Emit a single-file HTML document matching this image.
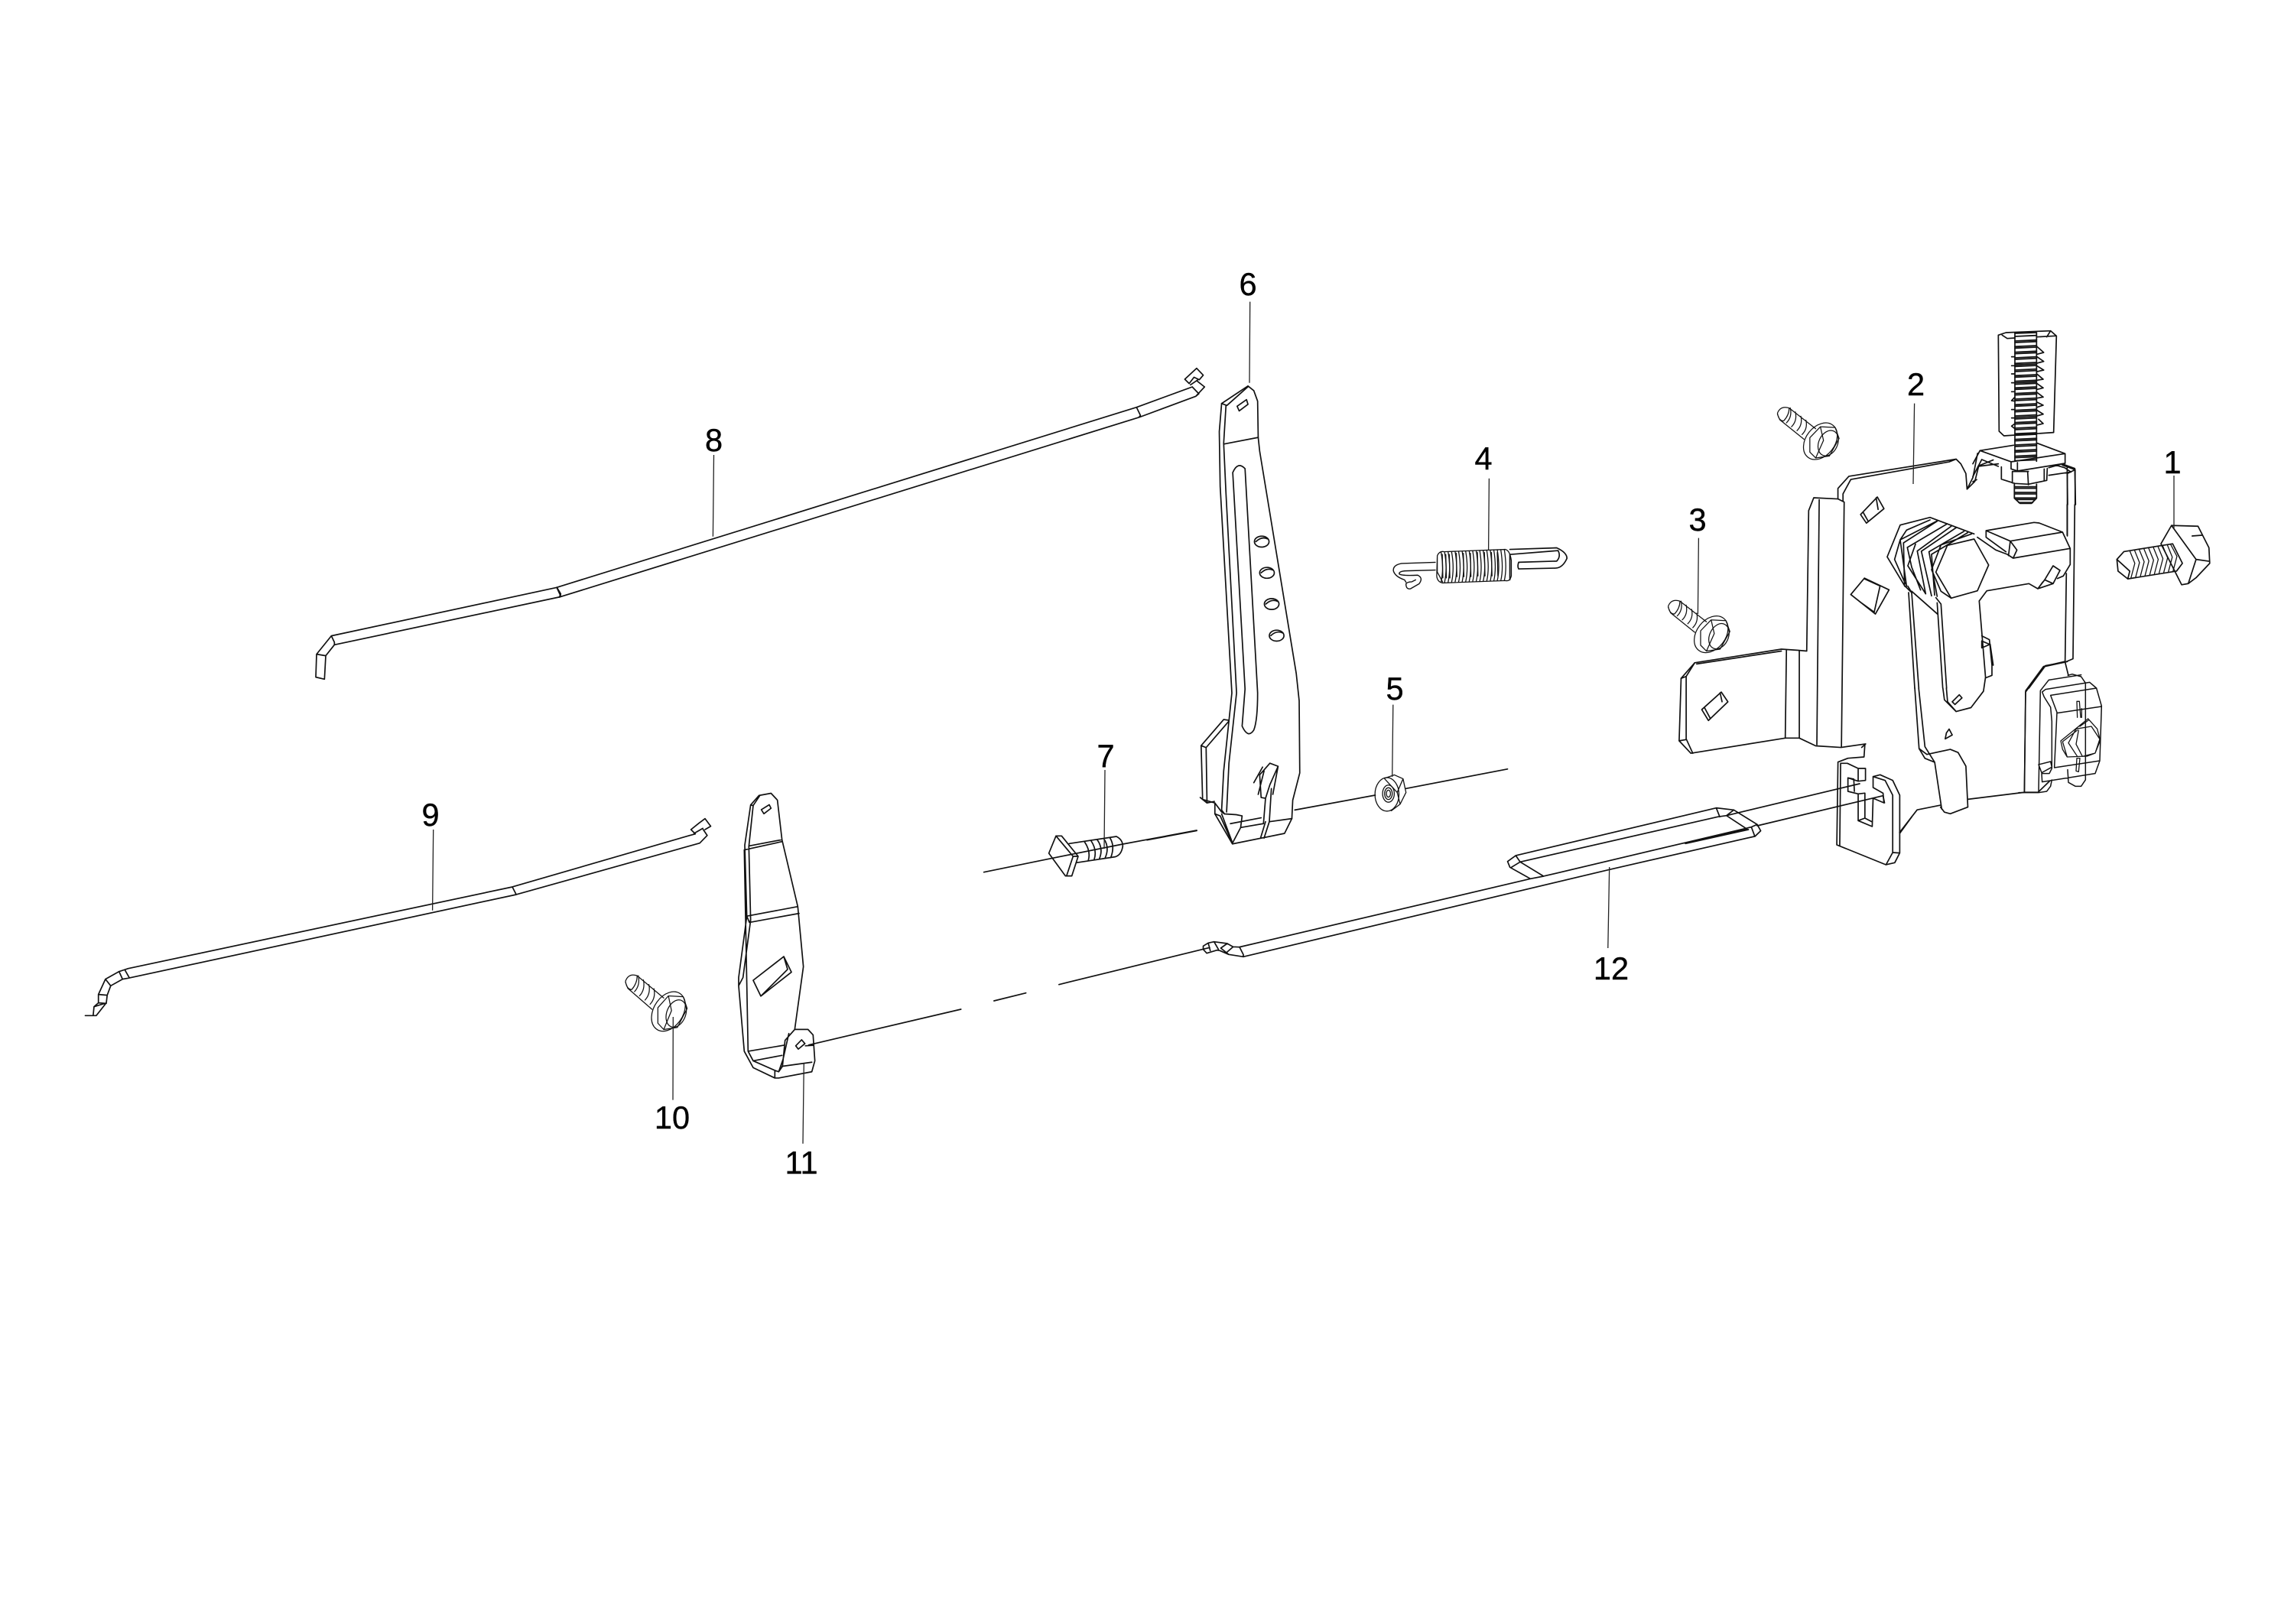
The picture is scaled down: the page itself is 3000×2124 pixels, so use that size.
<!DOCTYPE html>
<html><head><meta charset="utf-8"><style>
html,body{margin:0;padding:0;background:#fff}
svg{display:block}
svg *{vector-effect:non-scaling-stroke}
text{font-family:"Liberation Sans",sans-serif;font-size:41.5px;fill:#000;stroke:#000;stroke-width:.4;text-anchor:middle}
</style></head><body>
<svg width="3000" height="2124" viewBox="0 0 3000 2124" xmlns="http://www.w3.org/2000/svg">
<rect width="3000" height="2124" fill="#fff"/>
<g fill="none" stroke="#111" stroke-width="1.7" stroke-linejoin="round" stroke-linecap="round">

<!-- rod 8 -->
<g transform="translate(380,480) scale(.3333)">
<path d="M1045,865L160,1055L102,1127L99,1217L133,1225L138,1133L172,1090L1058,902M160,1055L172,1080V1090M1045,865L1060,890L1058,902M102,1127L138,1133"/>
</g>
<g transform="translate(720,470) scale(.574,.3333)">
<path d="M14,895L1335,188L1462,108M20,933L1340,228L1470,145L1490,108L1473,85M14,895L22,925L20,933M1335,188L1344,220L1340,228M1462,108L1477,135L1470,145M1445,78L1472,35L1487,62L1478,80L1466,70L1455,95ZM1458,100L1475,80"/>
</g>

<!-- rod 9 -->
<g transform="translate(100,1050) scale(.574,.3333)">
<path d="M1397,128L993,330L118,650L97,662L66,692L50,752V785L40,800L38,835M1428,105L1437,128L1420,158L1002,360L118,688L105,692L78,718L70,755L68,785L45,835H20M993,330L1002,360M110,655L120,685M97,662L105,692M66,692L78,718M50,752L70,755M50,785L68,787M40,800L65,787M1400,105L1418,80L1432,62L1445,92L1432,105M1400,105L1410,122L1397,128M1407,120L1427,100"/>
</g>

<!-- axis + rod 12 tip -->
<g transform="translate(1050,1200) scale(.3827,.3333)">
<path d="M20,500L540,360M653,327L762,296M875,263L1390,118M1368,112L1385,100L1405,95L1450,102L1470,115L1492,116L1505,145V154L1455,145L1425,130L1415,128L1380,140L1368,125ZM1385,100L1392,130M1405,95L1420,125M1450,102L1428,120L1455,145M1470,115L1450,135"/>
</g>

<!-- rod 12 + clip -->
<g transform="translate(1900,950) scale(.3827,.3333)">
<path d="M-729,866L265,598M-716,904L535,562L1030,432M265,598L195,553L187,530L215,507L900,320L960,328L1040,385L1052,410L1032,432M310,588L230,532L200,553M215,507L230,532L905,355L935,350L1005,403M265,598L310,588L1020,395L1040,385M900,320L912,355M960,328L935,350M1020,395L1032,432M790,458L1005,403M795,460L1010,405M935,350L1390,225M1040,390L1470,272L1475,300"/>
<path d="M1408,70L1405,120L1350,125L1316,140L1312,465L1480,543L1510,535L1527,497V270L1503,212L1460,190L1436,197V240L1470,262L1473,300L1436,282L1433,393L1385,370V265L1350,255V202L1385,215L1410,212V165H1385L1348,145L1325,145M1325,145L1322,470M1385,265L1408,262V360L1433,375M1385,165V213M1350,202L1370,207L1372,255M1385,370L1408,360M1436,197L1477,212L1503,270V495L1480,543M1503,495L1527,497M1527,420L1568,355"/>
</g>

<!-- main plate, bolts -->
<g transform="translate(2150,400) scale(.5102)">
<path d="M497,495V468L525,437L800,393L812,405L825,430L828,470L848,450L858,410L895,395M510,500V482L530,445L782,400L800,393M828,470L843,440L855,378"/>
<path d="M417,885L422,525L435,492L497,495L513,503L506,1130M449,497L443,1125M417,885L395,883L352,880L130,915L95,955L90,1115L120,1147L362,1108H398L440,1128L505,1132L568,1123L558,1132"/>
<path d="M135,918L352,885M95,955L108,950L130,915M108,950V1110L125,1147M90,1115L108,1112M365,883L362,1108M398,885V1108"/>
<path d="M148,1035L198,990L215,1015L165,1063ZM195,992L200,1015M155,1030L170,1058"/>
<path d="M555,535L598,490L615,520L570,557ZM595,492L600,522M562,530L575,553"/>
<path d="M530,740L565,698L628,728L593,790ZM565,698L605,718L590,785L555,760L530,740M605,718L565,700"/>
<path d="M655,1350L700,1292L760,1280M830,1265L975,1247H1010L1040,1218M975,1247L978,990L1025,925L1085,912M1105,510V420L1072,408M1085,590V430L1105,420"/>
<path d="M704,980L720,1130L745,1170L763,1290M694,980L705,1135L720,1160L745,1170M705,1135L725,1150L785,1137L805,1145L825,1180L830,1285L785,1302L770,1298L760,1285"/>
<path d="M766,980L770,1010L800,1040L838,1030L870,988L875,954M775,980L778,1015L800,1040M790,1015L808,997L815,1005L797,1022ZM775,1095L782,1085L790,1100L772,1110Z"/>
<!-- bolt 1 -->
<path d="M1352,563L1325,610L1378,715L1395,712L1415,650ZM1352,563L1420,565L1448,620L1450,660L1415,697L1395,712M1415,650L1450,655M1405,590L1430,588M1230,630L1355,610L1380,660L1365,680L1240,700L1215,680L1212,650ZM1212,650L1245,680L1240,700"/>
<path stroke-width="1.3" d="M1245,628L1258,660L1248,698M1257,626L1270,658L1260,696M1269,624L1282,656L1272,694M1281,622L1294,654L1284,692M1293,620L1306,652L1296,690M1305,618L1318,650L1308,688M1317,616L1330,648L1320,686M1329,614L1342,646L1332,684M1341,612L1354,644L1344,682M1350,612L1366,642L1356,680"/>
<g stroke-width="1.25">
<path d="M342,275Q350,255 372,262L440,315M342,278L348,292L410,342M342,275Q345,295 358,295Q372,280 372,262M375,262Q380,285 365,300M388,272Q393,295 378,310M402,283Q407,305 392,320M415,293Q420,315 405,330"/>
<ellipse cx="452" cy="347" rx="37" ry="52" transform="rotate(38 452 347)"/>
<path d="M425,338L452,310L490,312L500,340L475,385L440,390L425,375ZM452,310L460,345L440,390"/>
<ellipse cx="472" cy="352" rx="24" ry="34" transform="rotate(25 472 352)"/>
</g>
<g transform="translate(-280,495)" stroke-width="1.25"><path d="M342,275Q350,255 372,262L440,315M342,278L348,292L410,342M342,275Q345,295 358,295Q372,280 372,262M375,262Q380,285 365,300M388,272Q393,295 378,310M402,283Q407,305 392,320M415,293Q420,315 405,330"/>
<ellipse cx="452" cy="347" rx="37" ry="52" transform="rotate(38 452 347)"/>
<path d="M425,338L452,310L490,312L500,340L475,385L440,390L425,375ZM452,310L460,345L440,390"/>
<ellipse cx="472" cy="352" rx="24" ry="34" transform="rotate(25 472 352)"/></g>
</g>

<!-- bolt 10 -->
<g transform="translate(643.5,1132) scale(.5102,.55)" stroke-width="1.25">
<path d="M342,275Q350,255 372,262L440,315M342,278L348,292L410,342M342,275Q345,295 358,295Q372,280 372,262M375,262Q380,285 365,300M388,272Q393,295 378,310M402,283Q407,305 392,320M415,293Q420,315 405,330"/>
<ellipse cx="452" cy="347" rx="37" ry="52" transform="rotate(38 452 347)"/>
<path d="M425,338L452,310L490,312L500,340L475,385L440,390L425,375ZM452,310L460,345L440,390"/>
<ellipse cx="472" cy="352" rx="24" ry="34" transform="rotate(25 472 352)"/>
</g>

<!-- lever + layered hex -->
<g transform="translate(2450,660) scale(.3333)">
<path d="M290,160L395,135L452,237L408,338L305,367L245,265Z"/>
<path d="M54,205L105,80L222,50L395,115M54,205L122,318L150,345M83,215L105,138L130,100L222,60M83,215L125,310M105,138L248,65M118,150L250,65M118,150L122,320M105,138L130,320M133,168L290,75M133,168L150,245L185,335M165,155L135,240L205,350M172,182L305,85M172,182L205,350M188,183L325,90M188,183L228,358M218,185L355,105M218,185L250,360M228,195L370,110M228,195L240,355M265,158L385,115M265,158L228,255L265,340L305,367"/>
<path d="M135,320L150,345L178,720M138,345L162,720M150,340L252,430M245,365L265,390L287,720M250,385L272,720"/>
<path d="M408,128L480,178L525,195L548,210L772,172L742,108L650,72L630,70L442,102V128L520,185M537,143L742,108M442,102L537,143L563,178L548,210M537,143L530,200M772,172V235L745,280L722,290"/>
<path d="M415,378L445,338L610,310L645,330L665,303M645,330L705,310L732,258L705,240L672,295L705,310M645,330L672,295M415,378L440,680L465,670V630L455,530L425,515M425,535V562L458,548M425,535L455,548M458,548L470,630"/>
<path d="M760,0V120M790,0L783,605L752,618L675,632L610,720M757,270L752,618L765,670"/>
</g>

<!-- right bracket -->
<g transform="translate(2640,860) scale(.3333)" stroke-width="1.5">
<path d="M22,530L27,130L97,35L182,15M193,70L210,65L245,75L262,100V480L245,505H222L195,490L192,440M0,530H78L110,525L125,505L130,480M118,88L245,68M118,88L85,130L78,528M105,125L278,97L305,120L325,190L318,405L300,455L92,488L90,455H120L130,435V250L125,195L100,155L92,135L105,125M305,120L125,148L150,215L140,430M150,218L325,192M140,432L318,405M78,420L125,408L130,430L90,452Z"/>
<path stroke-width="1.3" d="M165,327L272,240L308,280L320,325L300,375L268,387L190,390L172,360ZM190,390L172,330L230,285M230,388L195,335L225,280L285,270L318,320L300,375L250,388L225,340L235,285M240,270L275,245M230,235L228,172H238L243,235M247,235V200M225,445L228,395H240L235,448Z"/>
</g>

<!-- top threaded stud -->
<g transform="translate(2580,420) scale(.3333)">
<path d="M100,55L130,45L305,38L328,58L317,437L122,450L103,432ZM115,55L135,68L165,66M250,62L325,58M305,38L290,62"/>
<path stroke-width="1.8" d="M165,48l85,-3M165,60l85,-4M165,78l85,-4M165,84l85,-4M165,100l85,-4M165,106l85,-4M165,122l85,-4M165,128l85,-4M165,144l85,-4M165,150l85,-4M165,166l85,-4M165,172l85,-4M165,178l85,-4M165,192l85,-4M165,198l85,-4M165,214l85,-4M165,220l85,-4M165,236l85,-4M165,242l85,-4M165,248l85,-4M165,262l85,-4M165,268l85,-4M165,284l85,-4M165,290l85,-4M165,306l85,-4M165,312l85,-4M165,328l85,-4M165,334l85,-4M165,350l85,-4M165,356l85,-4M165,372l85,-4M165,378l85,-4M165,384l85,-4M165,398l85,-4M165,404l85,-4M165,420l85,-4M165,426l85,-4M165,442l85,-4M165,448l85,-4M165,464l85,-4M165,470l85,-4M165,486l85,-4M165,492l85,-4M165,508l85,-4M165,514l85,-4M165,530l85,-4M165,536l85,-4M165,548l85,-4"/>
<path d="M165,45V550M250,45V550"/>
<path d="M252,100L278,123L252,130M252,140L278,158L252,165M252,176L278,192L252,198M252,208L276,228L252,232M252,245L276,262L252,268M252,280L276,298L252,302M252,318L276,330L252,338M252,350L276,365L252,372M258,385L276,402L252,408M152,140H165M152,175H165M152,207H165M152,242H165M152,277H165M165,298L152,312L165,314M152,347H165M152,380H165M165,402L152,412L165,422"/>
<path d="M28,508L160,487M250,478L362,520V558L175,588L150,580V552L28,508M150,552L362,520M175,555V588M28,508L0,560M35,543L0,610M35,543L100,570M20,570L100,560M0,630L15,622"/>
<path d="M112,572V620L165,637L218,640L290,625L292,578M155,590V635M215,590L218,642M155,590H218M280,580V625M298,575L350,560L400,578L403,720M370,575L372,720M298,605L385,592M325,565L360,575L385,592"/>
<path stroke-width="1.8" d="M163,640V695L185,715H230L250,695V640M163,650h87M163,656h87M163,672h87M163,678h87M165,694h85M170,700h75M180,712h55"/>
</g>

<!-- part 6, 4, 5 -->
<g transform="translate(1500,340) scale(.3827,.5102)">
<path d="M255,368L345,323L365,335L378,362L380,455L385,490L510,1060L520,1130L522,1315L498,1385L495,1432L470,1470L292,1497L232,1420V1392L190,1383L185,1245L262,1178L280,1180"/>
<path d="M255,368L247,440L250,580L290,1110L262,1310L255,1410L265,1420M270,372L262,470L270,600L306,1110L280,1290L272,1415M262,472L380,455M255,368L273,373L345,325"/>
<path d="M293,545Q310,515 335,535L378,1110Q378,1180 365,1205Q345,1228 325,1195L335,1100Z"/>
<ellipse cx="392" cy="722" rx="25" ry="14"/><ellipse cx="410" cy="802" rx="25" ry="14"/><ellipse cx="426" cy="882" rx="25" ry="14"/><ellipse cx="443" cy="963" rx="25" ry="14"/>
<path d="M372,722Q392,708 412,715M390,802Q410,788 430,795M406,882Q426,868 446,875M423,963Q443,949 463,956"/>
<path d="M308,375L340,358L345,370L315,387ZM185,1245L202,1250L280,1182M202,1250L205,1390M182,1378L205,1392L230,1388"/>
<path d="M232,1392L255,1415L265,1420L305,1422L325,1425L320,1455L292,1495L250,1425L232,1420M255,1420L290,1490M285,1445L390,1430M320,1455L398,1445L405,1380L420,1345L448,1298L420,1290L385,1320L390,1378L405,1380M425,1355L418,1440L495,1432M405,1440L388,1482M418,1440L400,1482M448,1298L430,1370M395,1300L365,1340M400,1310L380,1370"/>
<!-- spring -->
<path stroke-width="1.4" d="M985,775L870,778Q840,782 842,797Q848,812 880,820L885,826M985,795L885,797Q860,798 862,805Q870,810 925,808Q945,815 930,830L900,843Q885,845 885,830Q890,825 905,825L918,820"/>
<path d="M1240,742L1400,738Q1435,750 1435,765Q1420,790 1395,790L1270,792Q1265,785 1270,775L1400,772Q1415,760 1405,745L1240,755M1240,755L1240,820"/>
<path stroke-width="1.3" d="M992,758Q1000,745 1015,748L1225,742Q1240,745 1245,770V810Q1240,825 1225,822L1010,828Q992,825 990,810ZM992,758V800L1010,825"/>
<path stroke-width="1.3" d="M1005,750Q1015,790 1005,826M1017,750Q1027,790 1017,826M1029,749Q1039,790 1029,826M1041,749Q1051,790 1041,826M1053,748Q1063,790 1053,825M1065,748Q1075,790 1065,825M1077,747Q1087,790 1077,825M1089,747Q1099,790 1089,825M1101,746Q1111,790 1101,824M1113,746Q1123,790 1113,824M1125,745Q1135,790 1125,824M1137,745Q1147,790 1137,824M1149,745Q1159,790 1149,823M1161,744Q1171,790 1161,823M1173,744Q1183,790 1173,823M1185,743Q1195,790 1185,823M1197,743Q1207,790 1197,822M1209,743Q1219,790 1209,822M1221,742Q1231,790 1221,822"/>
<path stroke-width="1.3" d="M1009,755L1011,815M1021,755L1023,815M1033,755L1035,815M1057,752L1059,812M1081,752L1083,812M1105,752L1107,812M1129,750L1131,810M1153,750L1155,810M1177,750L1179,810M1197,750L1199,810"/>
<!-- axis -->
<path d="M505,1410L780,1372M885,1355L1232,1305M0,1487L170,1463"/>
<!-- nut -->
<g stroke-width="1.3">
<ellipse cx="820" cy="1370" rx="41" ry="43"/>
<path d="M815,1328L845,1320L875,1330L885,1365L865,1395L835,1412M875,1330L855,1365L865,1395M812,1330L855,1365"/>
<ellipse cx="825" cy="1368" rx="20" ry="22"/><ellipse cx="825" cy="1368" rx="13" ry="15"/><ellipse cx="825" cy="1368" rx="7" ry="9"/>
</g>
</g>

<!-- part 11 -->
<g transform="translate(800,1000) scale(.3333,.3571)">
<path d="M545,148L578,113L625,105L650,130L668,275L730,520L752,740L718,970M545,148L522,295L530,555L498,780V810L520,1050L555,1110L640,1148H655L785,1125L797,1085L790,990L770,970H718L680,1010L670,1105L655,1125L640,1120L555,1085L535,1050M555,150L538,300L545,570L515,780L498,810M545,148L555,150L580,115M538,298L668,275M522,312L668,282M530,555L730,520M540,578L735,545M530,555L540,578L545,570M535,1050L675,1028M555,1085L668,1065M535,1050L520,312M555,790L675,703L705,760L585,848ZM675,703L690,750L585,848M587,165L618,147L625,160L597,180ZM722,1030L745,1008L758,1022L732,1042ZM695,985L672,1080L655,1125M668,1105L785,1090M640,1120V1148M760,1030L790,1028"/>
</g>

<!-- part 7 -->
<g transform="translate(1270,970) scale(.3333)">
<path d="M305,438L333,370H355L420,450L395,527H370ZM333,370L400,450L375,525M400,450H420M385,400L570,372Q595,385 595,410Q590,445 565,452L413,475M445,393Q470,430 460,465M470,388Q495,425 483,462M495,385Q520,420 503,460M520,380Q545,415 525,458M545,378Q565,410 548,455M50,512L305,460L595,402L885,348"/>
</g>
</g>

<!-- leaders -->
<g stroke="#222" stroke-width="1.3" fill="none">
<path d="M2843,622V691M2503.6,527.6L2502,633M2221.4,703.6L2220.4,803M1947.4,625.7L1946.6,720M1821.8,921.6L1820.7,1016M1634.7,394.6L1634,500.7M1445,1007L1444,1110M933.5,595L932.4,701.7M566.7,1085L565.6,1190.7M880.3,1330L880,1438.6M1051.3,1391L1050,1495.7M2104.7,1134L2102.8,1240"/>
</g>

<!-- labels -->
<text x="2841" y="619">1</text>
<text x="2505.6" y="517">2</text>
<text x="2220" y="694">3</text>
<text x="1940" y="614">4</text>
<text x="1824" y="915">5</text>
<text x="1632" y="386">6</text>
<text x="1446" y="1003">7</text>
<text x="933.5" y="590">8</text>
<text x="563" y="1080">9</text>
<text x="879" y="1476">10</text>
<text x="1048" y="1535">11</text>
<text x="2107" y="1281">12</text>
</svg>
</body></html>
